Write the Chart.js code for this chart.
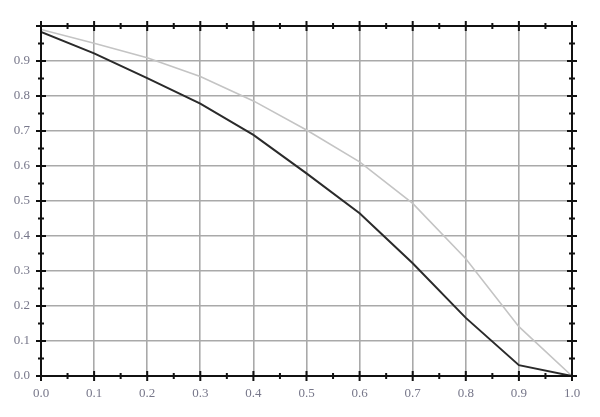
<!DOCTYPE html>
<html>
<head>
<meta charset="utf-8">
<script src="https://cdn.jsdelivr.net/npm/chart.js@4/dist/chart.umd.min.js"></script>
<style>
  body { margin: 0; background: #fff; }
  #wrap { width: 600px; height: 417px; }
</style>
</head>
<body>
<div id="wrap"><canvas id="plot" width="600" height="417"></canvas></div>
<script>
// x positions shared by both curves
const xs = [0.0, 0.1, 0.2, 0.3, 0.4, 0.5, 0.6, 0.7, 0.8, 0.9, 1.0]
// dark curve
const darkY = [0.983, 0.922, 0.851, 0.778, 0.689, 0.579, 0.465, 0.322, 0.166, 0.031, 0.0]
// light curve
const lightY = [0.99, 0.951, 0.909, 0.856, 0.786, 0.703, 0.612, 0.493, 0.335, 0.141, 0.0]

const axisColor = '#111'
const gridColor = '#a9a9a9'
const labelColor = '#77778a'

function toPoints(ys) {
  return xs.map((x, i) => ({x: x, y: ys[i]}))
}

// cross-shaped ticks on all four sides, major every 0.1 and minor every 0.05
const crossTicks = {
  id: 'crossTicks',
  afterDatasetsDraw(chart) {
    const {ctx, chartArea: {left, right, top, bottom}, scales: {x, y}} = chart
    ctx.save()
    ctx.strokeStyle = axisColor
    ctx.lineWidth = 2
    for (let k = 0; k <= 20; k++) {
      const v = k / 20
      const len = k % 2 === 0 ? 5 : 3
      const px = x.getPixelForValue(v)
      const py = y.getPixelForValue(v)
      ctx.beginPath()
      ctx.moveTo(px, bottom - len); ctx.lineTo(px, bottom + len)
      ctx.moveTo(px, top - len); ctx.lineTo(px, top + len)
      ctx.moveTo(left - len, py); ctx.lineTo(left + len, py)
      ctx.moveTo(right - len, py); ctx.lineTo(right + len, py)
      ctx.stroke()
    }
    ctx.lineWidth = 2
    ctx.strokeRect(left, top, right - left, bottom - top)
    ctx.restore()
  }
}

const labelFont = {family: '"Liberation Serif", "DejaVu Serif", serif', size: 13}

new Chart(document.getElementById('plot'), {
  type: 'line',
  data: {
    datasets: [
      {data: toPoints(darkY), borderColor: '#2a2a2a', borderWidth: 2, pointRadius: 0, tension: 0},
      {data: toPoints(lightY), borderColor: '#c4c4c4', borderWidth: 1.6, pointRadius: 0, tension: 0}
    ]
  },
  options: {
    responsive: false,
    animation: false,
    layout: {padding: {top: 26, right: 28, left: 0, bottom: 0}},
    plugins: {legend: {display: false}, tooltip: {enabled: false}},
    scales: {
      x: {
        type: 'linear', min: 0, max: 1,
        afterFit(scale) { scale.height = 41 },
        border: {display: false},
        grid: {color: gridColor, lineWidth: 1.6, drawTicks: false},
        ticks: {stepSize: 0.1, padding: 10, color: labelColor, font: labelFont,
          callback: v => v.toFixed(1)}
      },
      y: {
        min: 0, max: 1,
        afterFit(scale) { scale.width = 41 },
        border: {display: false},
        grid: {color: gridColor, lineWidth: 1.6, drawTicks: false},
        ticks: {stepSize: 0.1, padding: 11, color: labelColor, font: labelFont,
          callback: v => (v > 0.95 ? '' : v.toFixed(1))}
      }
    }
  },
  plugins: [crossTicks]
})
</script>
</body>
</html>
